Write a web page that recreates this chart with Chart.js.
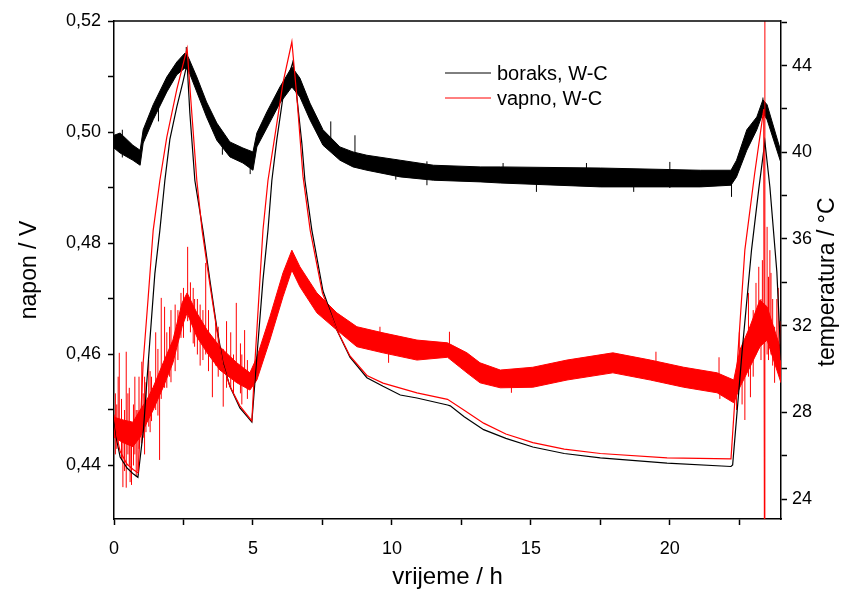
<!DOCTYPE html>
<html>
<head>
<meta charset="utf-8">
<script src="https://cdn.jsdelivr.net/npm/chart.js@4.4.0/dist/chart.umd.min.js"></script>
<style>
html,body{margin:0;padding:0;background:#fff;}
</style>
</head>
<body>
<canvas id="napon_graph" width="847" height="593"></canvas>
<script>

// napon (V) - borax, upper/lower edge of the noisy band
let boraks_t=[0,0.22,0.68,0.94,1.05,1.41,1.9,2.26,2.55,2.67,2.98,3.33,3.7,4.17,4.64,5.0,5.14,5.5,5.97,6.4,6.69,7.05,7.52,8.13,8.6,9.1,10.3,11.5,13.2,13.9,17.5,21.1,22.2,22.4,22.77,23.13,23.35,23.5,24.0];
let boraks_hi=[0.4995,0.4999,0.4977,0.4968,0.5005,0.5050,0.5100,0.5127,0.5143,0.5136,0.5100,0.5055,0.5017,0.4983,0.4972,0.4965,0.4999,0.5037,0.5082,0.5118,0.5098,0.5053,0.5005,0.4974,0.4965,0.4959,0.4950,0.4941,0.4938,0.4938,0.4936,0.4932,0.4932,0.4950,0.5005,0.5028,0.5059,0.5050,0.4965];
let boraks_lo=[0.4972,0.4963,0.4950,0.4941,0.4981,0.5023,0.5073,0.5104,0.5116,0.5113,0.5073,0.5028,0.4986,0.4956,0.4945,0.4932,0.4974,0.5008,0.5053,0.5082,0.5064,0.5023,0.4977,0.4950,0.4938,0.4932,0.4920,0.4914,0.4911,0.4909,0.4902,0.4902,0.4905,0.4920,0.4968,0.5005,0.5035,0.5023,0.4945];

// napon (V) - vapno
let vapno_t=[0,0.33,0.68,0.94,1.18,1.41,1.77,2.12,2.45,2.63,2.98,3.35,3.81,4.42,4.89,5.14,5.61,6.08,6.4,6.69,7.3,8.02,8.74,9.68,10.9,12.0,12.7,13.17,13.9,15.07,16.3,17.95,19.3,20.5,21.7,22.3,22.52,22.88,23.24,23.5,24.0];
let vapno_hi=[0.4487,0.4482,0.4478,0.4500,0.4518,0.4541,0.4585,0.4626,0.4693,0.4711,0.4675,0.4644,0.4614,0.4585,0.4567,0.4595,0.4668,0.4747,0.4788,0.4758,0.4711,0.4675,0.4650,0.4639,0.4626,0.4621,0.4603,0.4585,0.4572,0.4577,0.4590,0.4603,0.4590,0.4577,0.4567,0.4554,0.4608,0.4650,0.4698,0.4686,0.4608];
let vapno_lo=[0.4451,0.4441,0.4434,0.4451,0.4477,0.4500,0.4541,0.4585,0.4650,0.4675,0.4632,0.4603,0.4572,0.4549,0.4536,0.4554,0.4626,0.4704,0.4752,0.4722,0.4675,0.4644,0.4614,0.4603,0.4590,0.4595,0.4567,0.4549,0.4540,0.4541,0.4554,0.4567,0.4554,0.4541,0.4531,0.4513,0.4541,0.4577,0.4614,0.4626,0.4549];

// single spikes sticking out of the bands
let boraks_spike_t=[0.3,1.6,2.6,3.9,4.9,6.45,7.8,8.67,10.14,11.26,14.0,15.2,17.0,18.7,20.0,22.22,23.35];
let boraks_spike_lo=[0.4955,0.5020,0.5116,0.4960,0.4925,0.5090,0.4975,0.4960,0.4915,0.4905,0.4920,0.4893,0.4905,0.4893,0.4900,0.4884,0.5035];
let boraks_spike_hi=[0.5005,0.5060,0.5154,0.5000,0.4960,0.5131,0.5020,0.4995,0.4952,0.4948,0.4945,0.4930,0.4945,0.4930,0.4947,0.4910,0.5063];

let vapno_spike_t=[0.05,0.1,0.15,0.19,0.27,0.32,0.38,0.44,0.5,0.55,0.58,0.63,0.7,0.75,0.80,0.86,0.9,1.00,1.05,1.10,1.15,1.25,1.30,1.35,1.5,1.58,1.64,1.70,1.82,1.9,2.0,2.05,2.2,2.3,2.41,2.5,2.65,2.75,2.85,2.9,3.0,3.1,3.2,3.3,3.4,3.54,3.66,3.75,3.93,4.05,4.2,4.3,4.4,4.55,4.6,4.7,4.8,9.57,9.88,12.07,14.3,19.5,21.77,21.8,22.4,22.5,22.6,22.7,22.83,22.9,23.0,23.1,23.2,23.28,23.33,23.42,23.5,23.55,23.6,23.64,23.7,23.77,23.85,23.9,23.96];
let vapno_spike_lo=[0.4420,0.4430,0.4440,0.4451,0.4410,0.4361,0.4390,0.4360,0.4420,0.4400,0.4370,0.4365,0.4400,0.4420,0.4380,0.4390,0.4430,0.4440,0.4450,0.4420,0.4460,0.4470,0.4460,0.4480,0.4500,0.4490,0.4410,0.4520,0.4540,0.4540,0.4560,0.4550,0.4570,0.4590,0.4630,0.4630,0.4660,0.4640,0.4620,0.4614,0.4600,0.4580,0.4590,0.4600,0.4570,0.4523,0.4580,0.4560,0.4506,0.4540,0.4540,0.4530,0.4550,0.4530,0.4510,0.4550,0.4520,0.4610,0.4585,0.4595,0.4531,0.4570,0.4540,0.4520,0.4500,0.4540,0.4510,0.4482,0.4560,0.4523,0.4560,0.4600,0.4610,0.4590,0.4620,0.40,0.4600,0.4590,0.4620,0.4600,0.4580,0.4549,0.4595,0.4580,0.4560];
let vapno_spike_hi=[0.4530,0.4510,0.4560,0.4603,0.4520,0.4460,0.4500,0.4605,0.4530,0.4540,0.4480,0.4470,0.4510,0.4560,0.4500,0.4500,0.4560,0.4587,0.4530,0.4560,0.4550,0.4590,0.4570,0.4560,0.4640,0.4610,0.4530,0.4702,0.4686,0.4640,0.4650,0.4680,0.4690,0.4680,0.4711,0.4720,0.4794,0.4730,0.4720,0.4700,0.4700,0.4690,0.4680,0.4765,0.4680,0.4630,0.4657,0.4650,0.4610,0.4660,0.4640,0.4600,0.4693,0.4620,0.4600,0.4644,0.4590,0.4650,0.4620,0.4641,0.4570,0.4605,0.4595,0.4560,0.4550,0.4640,0.4600,0.4580,0.4711,0.4600,0.4680,0.4729,0.4758,0.4700,0.4770,0.56,0.4830,0.4740,0.4788,0.4747,0.4700,0.4650,0.4700,0.4720,0.4660];

// temperatura (°C)
let temp_boraks_t=[0,0.1,0.22,0.47,0.7,0.86,1.06,1.17,1.29,1.47,1.65,1.83,2.01,2.26,2.49,2.63,2.73,2.91,3.2,3.45,3.7,3.92,4.17,4.53,4.96,5.14,5.36,5.54,5.68,5.86,6.08,6.25,6.44,6.58,6.76,6.87,7.12,7.52,8.02,8.49,9.1,9.68,10.3,10.9,12.0,12.1,12.6,13.3,14.1,15.07,16.2,17.5,19.9,22.2,22.26,22.6,22.94,23.2,23.42,23.6,23.85,24.0];
let temp_boraks=[27.65,26.7,25.94,25.43,25.15,25.0,27.2,29.2,31.3,34.4,36.4,38.7,40.6,42.1,43.3,44.1,41.8,38.7,36.4,34.1,31.9,30.3,29.2,28.2,27.55,30.55,34.1,36.4,38.7,40.6,42.55,43.4,44.17,42.55,40.4,38.7,36.4,33.6,31.8,30.55,29.6,29.2,28.8,28.66,28.34,28.3,27.8,27.2,26.8,26.4,26.1,25.9,25.66,25.5,25.57,30.8,35.5,38.3,40.5,38.4,34.5,30.4];

let temp_vapno_t=[0,0.1,0.22,0.47,0.7,0.87,1.05,1.23,1.41,1.65,1.9,2.26,2.63,2.8,2.98,3.17,3.45,3.7,3.92,4.17,4.53,4.96,5.07,5.25,5.36,5.54,5.86,6.08,6.4,6.58,6.8,7.06,7.5,8.02,8.49,9.1,9.68,10.9,12.0,12.6,13.3,14.1,15.07,16.2,17.5,19.9,22.2,22.45,22.7,23.05,23.38,23.42];
let temp_vapno=[27.9,26.9,26.2,25.6,25.35,25.2,30.3,33.3,36.4,38.7,40.7,42.9,44.8,41.8,38.7,36.4,33.9,31.8,30.2,29.2,28.3,27.6,30.3,34.1,36.4,38.7,41.35,43.2,45.1,42.55,38.9,36.4,33.5,31.8,30.6,29.7,29.35,28.9,28.6,28.1,27.5,27.0,26.6,26.3,26.1,25.9,25.85,30.7,35.5,39.0,42.0,10];

// osi
let x_ticks=[0,2.5,5,7.5,10,12.5,15,17.5,20,22.5];
let y_ticks=[0.44,0.45,0.46,0.47,0.48,0.49,0.50,0.51,0.52];
let y2_ticks=[24,26,28,30,32,34,36,38,40,42,44,46];
let legend_names=['boraks, W-C','vapno, W-C'];
let legend_colors=['#000000','#ff0000'];
let right_title='temperatura / °C';


function to_points(t,v){
    let pts=[];
    for(let i=0;i<t.length;i++){
        pts.push({x:t[i],y:v[i]});
    }
    return pts;
}

function to_spikes(t,lo,hi){
    let pts=[];
    for(let i=0;i<t.length;i++){
        pts.push({x:t[i],y:lo[i]});
        pts.push({x:t[i],y:hi[i]});
        pts.push({x:t[i],y:null});
    }
    return pts;
}

const FONT='"Liberation Sans", Arial, sans-serif';

// top frame line, legend and the right axis title (reads bottom to top)
const frame_plugin={
    id:'frame_plugin',
    afterDraw(chart){
        const ctx=chart.ctx;
        const a=chart.chartArea;
        ctx.save();
        ctx.strokeStyle='#000';
        ctx.lineWidth=1.5;
        ctx.beginPath();
        ctx.moveTo(a.left,a.top);
        ctx.lineTo(a.right,a.top);
        ctx.stroke();

        ctx.font='20px '+FONT;
        ctx.textBaseline='middle';
        ctx.textAlign='left';
        for(let i=0;i<legend_names.length;i++){
            let y=73+i*25;
            ctx.strokeStyle=legend_colors[i];
            ctx.lineWidth=1;
            ctx.beginPath();
            ctx.moveTo(445,y);
            ctx.lineTo(491,y);
            ctx.stroke();
            ctx.fillStyle='#000';
            ctx.fillText(legend_names[i],497,y+1);
        }

        ctx.translate(828,282);
        ctx.rotate(-Math.PI/2);
        ctx.font='23px '+FONT;
        ctx.textAlign='center';
        ctx.fillText(right_title,0,0);
        ctx.restore();
    }
};

const line_base={pointRadius:0,borderWidth:1,tension:0,spanGaps:false};

const graph=document.getElementById('napon_graph').getContext('2d');

new Chart(graph,{
    type:'line',
    data:{
        datasets:[
            Object.assign({},line_base,{
                label:'temp vapno',
                data:to_points(temp_vapno_t,temp_vapno),
                borderColor:'#ff0000',
                borderWidth:1.2,
                yAxisID:'y2',
                fill:false,
                order:0
            }),
            Object.assign({},line_base,{
                label:'temp boraks',
                data:to_points(temp_boraks_t,temp_boraks),
                borderColor:'#000000',
                borderWidth:1.2,
                yAxisID:'y2',
                fill:false,
                order:1
            }),
            Object.assign({},line_base,{
                label:'vapno lo',
                data:to_points(vapno_t,vapno_lo),
                borderColor:'#ff0000',
                yAxisID:'y',
                fill:false,
                order:2
            }),
            Object.assign({},line_base,{
                label:'vapno hi',
                data:to_points(vapno_t,vapno_hi),
                borderColor:'#ff0000',
                backgroundColor:'#ff0000',
                yAxisID:'y',
                fill:'-1',
                order:2
            }),
            Object.assign({},line_base,{
                label:'vapno spikes',
                data:to_spikes(vapno_spike_t,vapno_spike_lo,vapno_spike_hi),
                borderColor:'#ff0000',
                yAxisID:'y',
                fill:false,
                order:2
            }),
            Object.assign({},line_base,{
                label:'boraks lo',
                data:to_points(boraks_t,boraks_lo),
                borderColor:'#000000',
                yAxisID:'y',
                fill:false,
                order:3
            }),
            Object.assign({},line_base,{
                label:'boraks hi',
                data:to_points(boraks_t,boraks_hi),
                borderColor:'#000000',
                backgroundColor:'#000000',
                yAxisID:'y',
                fill:'-1',
                order:3
            }),
            Object.assign({},line_base,{
                label:'boraks spikes',
                data:to_spikes(boraks_spike_t,boraks_spike_lo,boraks_spike_hi),
                borderColor:'#000000',
                yAxisID:'y',
                fill:false,
                order:3
            })
        ]
    },
    options:{
        responsive:false,
        animation:false,
        devicePixelRatio:1,
        layout:{padding:{top:21,left:0,right:0,bottom:0}},
        plugins:{
            legend:{display:false},
            tooltip:{enabled:false}
        },
        scales:{
            x:{
                type:'linear',
                position:'bottom',
                min:0,
                max:24,
                afterBuildTicks(axis){ axis.ticks=x_ticks.map(v=>({value:v})); },
                afterFit(axis){ axis.height=74; },
                ticks:{
                    autoSkip:false,
                    maxRotation:0,
                    padding:13,
                    color:'#000',
                    font:{family:FONT,size:18},
                    callback:(v)=>(v%5===0?String(v):'')
                },
                grid:{drawOnChartArea:false,tickLength:6,tickWidth:1.5,tickColor:'#000'},
                border:{color:'#000',width:1.5},
                title:{display:true,text:'vrijeme / h',color:'#000',font:{family:FONT,size:24},padding:{top:0,bottom:1}}
            },
            y:{
                type:'linear',
                position:'left',
                min:0.43036,
                max:0.52009,
                afterBuildTicks(axis){ axis.ticks=y_ticks.map(v=>({value:v})); },
                afterFit(axis){ axis.width=114; },
                ticks:{
                    autoSkip:false,
                    padding:7,
                    color:'#000',
                    font:{family:FONT,size:18},
                    callback:(v)=>(Math.round(v*100)%2===0?v.toFixed(2).replace('.',','):'')
                },
                grid:{drawOnChartArea:false,tickLength:6,tickWidth:1.5,tickColor:'#000'},
                border:{color:'#000',width:1.5},
                title:{display:true,text:'napon / V',color:'#000',font:{family:FONT,size:23},padding:{top:16,bottom:0}}
            },
            y2:{
                type:'linear',
                position:'right',
                min:23.077,
                max:46.06,
                afterBuildTicks(axis){ axis.ticks=y2_ticks.map(v=>({value:v})); },
                afterFit(axis){ axis.width=66; },
                ticks:{
                    autoSkip:false,
                    padding:5,
                    color:'#000',
                    font:{family:FONT,size:18},
                    callback:(v)=>(v%4===0?String(v):'')
                },
                grid:{drawOnChartArea:false,tickLength:6,tickWidth:1.5,tickColor:'#000'},
                border:{color:'#000',width:1.5},
                title:{display:false}
            }
        }
    },
    plugins:[frame_plugin]
});

</script>
</body>
</html>
